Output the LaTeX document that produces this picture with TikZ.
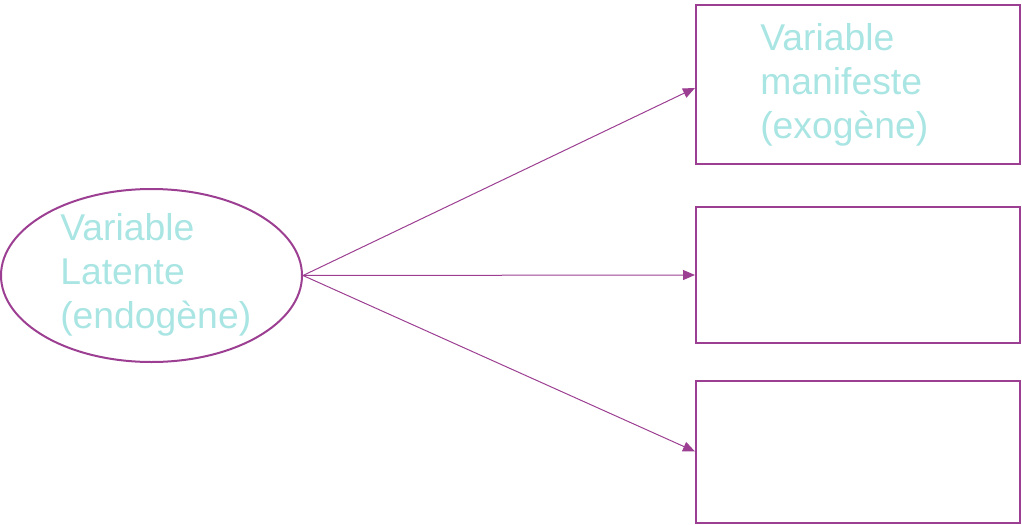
\documentclass[tikz,border=0pt]{standalone}
\usepackage{fontspec}
\setmainfont{Liberation Sans}
\usetikzlibrary{arrows.meta,shapes.geometric}
\definecolor{purp}{HTML}{9C3F92}
\definecolor{cyanlight}{HTML}{A9E5E3}
\tikzset{
  latent/.style={draw=purp, line width=1.5pt, ellipse, inner sep=0pt, minimum width=225.75pt, minimum height=129.75pt},
  manifest/.style={draw=purp, line width=1.5pt, rectangle, inner sep=0pt, minimum width=243pt},
  label/.style={text=cyanlight, font=\fontsize{28pt}{33pt}\selectfont, align=left, inner sep=0pt, anchor=base west},
  conn/.style={draw=purp, line width=0.75pt, -{Triangle[length=9pt, width=7.5pt]}}
}
\begin{document}
\begin{tikzpicture}[x=0.75pt, y=-0.75pt]
\useasboundingbox (0,0) rectangle (1022,525);
\node[latent] (lat) at (151.5,275.5) {};
\node[label] (lattxt) at (60,328) {Variable\\Latente\\(endogène)};
\node[manifest, minimum height=119.25pt] (b1) at (858,84.5) {};
\node[manifest, minimum height=102pt] (b2) at (858,275) {};
\node[manifest, minimum height=106.5pt] (b3) at (858,451.5) {};
\node[label] (b1txt) at (760,138) {Variable\\manifeste\\(exogène)};
\draw[conn] (lat.east) -- ([yshift=-2.6pt]b1.west);
\draw[conn] (lat.east) -- (b2.west);
\draw[conn] (lat.east) -- (b3.west);
\end{tikzpicture}
\end{document}
